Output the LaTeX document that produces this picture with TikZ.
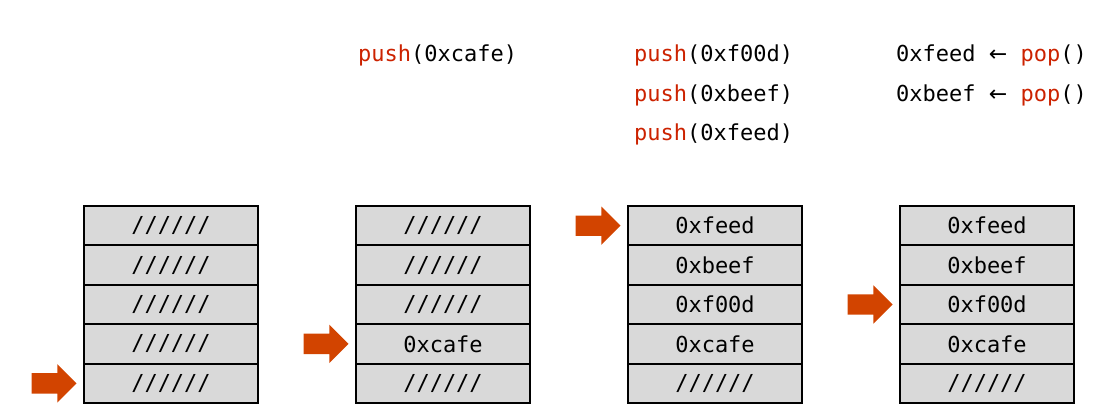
\documentclass[tikz,border=0pt]{standalone}
\usepackage{fontspec}
\setmonofont{DejaVu Sans Mono}
\newfontfamily\symfont{DejaVu Sans}
\usetikzlibrary{positioning,shapes.arrows}
\definecolor{opred}{RGB}{204,34,0}
\definecolor{sporange}{RGB}{210,68,0}
\definecolor{cellgray}{RGB}{217,217,217}
\newcommand\garbage{//////}
\newcommand\op[1]{\textcolor{opred}{#1}}

\begin{document}
\begin{tikzpicture}[x=1pt,y=-1pt,
  cell/.style={draw,line width=2pt,fill=cellgray,minimum width=174pt,outer sep=0pt,
    minimum height=39.4pt,inner sep=0pt,font=\ttfamily\fontsize{22}{26}\selectfont},
  code/.style={anchor=base west,inner sep=0pt,font=\ttfamily\fontsize{22}{26}\selectfont},
  sp/.style={single arrow,fill=sporange,draw=none,inner xsep=0pt,inner ysep=10pt,
    text height=0pt,text depth=0pt,outer sep=0pt,
    single arrow head extend=9pt,minimum width=38pt,minimum height=45pt,anchor=tip}]
  \useasboundingbox (0,0) rectangle (1101,412);
  % the four snapshots of the stack
  \foreach \s/\x/\a/\b/\c/\d/\e in {
      1/171/\garbage/\garbage/\garbage/\garbage/\garbage,
      2/443/\garbage/\garbage/\garbage/0xcafe/\garbage,
      3/715/0xfeed/0xbeef/0xf00d/0xcafe/\garbage,
      4/987/0xfeed/0xbeef/0xf00d/0xcafe/\garbage} {
    \node[cell] (s\s-1) at (\x,225.7) {\a};
    \node[cell,below=0pt of s\s-1] (s\s-2) {\b};
    \node[cell,below=0pt of s\s-2] (s\s-3) {\c};
    \node[cell,below=0pt of s\s-3] (s\s-4) {\d};
    \node[cell,below=0pt of s\s-4] (s\s-5) {\e};
  }
  % stack pointers
  \node[sp] (sp1) at ([xshift=-7.5pt]s1-5.west) {};
  \node[sp] (sp2) at ([xshift=-7.5pt]s2-4.west) {};
  \node[sp] (sp3) at ([xshift=-7.5pt]s3-1.west) {};
  \node[sp] (sp4) at ([xshift=-7.5pt]s4-3.west) {};
  % operations
  \node[code] (op2) at (358,62) {\op{push}(0xcafe)};
  \node[code] (op3a) at (634,62) {\op{push}(0xf00d)};
  \node[code] (op3b) at (634,101) {\op{push}(0xbeef)};
  \node[code] (op3c) at (634,140) {\op{push}(0xfeed)};
  \node[code] (op4a) at (896,62) {0xfeed {\symfont ←} \op{pop}()};
  \node[code] (op4b) at (896,101) {0xbeef {\symfont ←} \op{pop}()};
\end{tikzpicture}
\end{document}
